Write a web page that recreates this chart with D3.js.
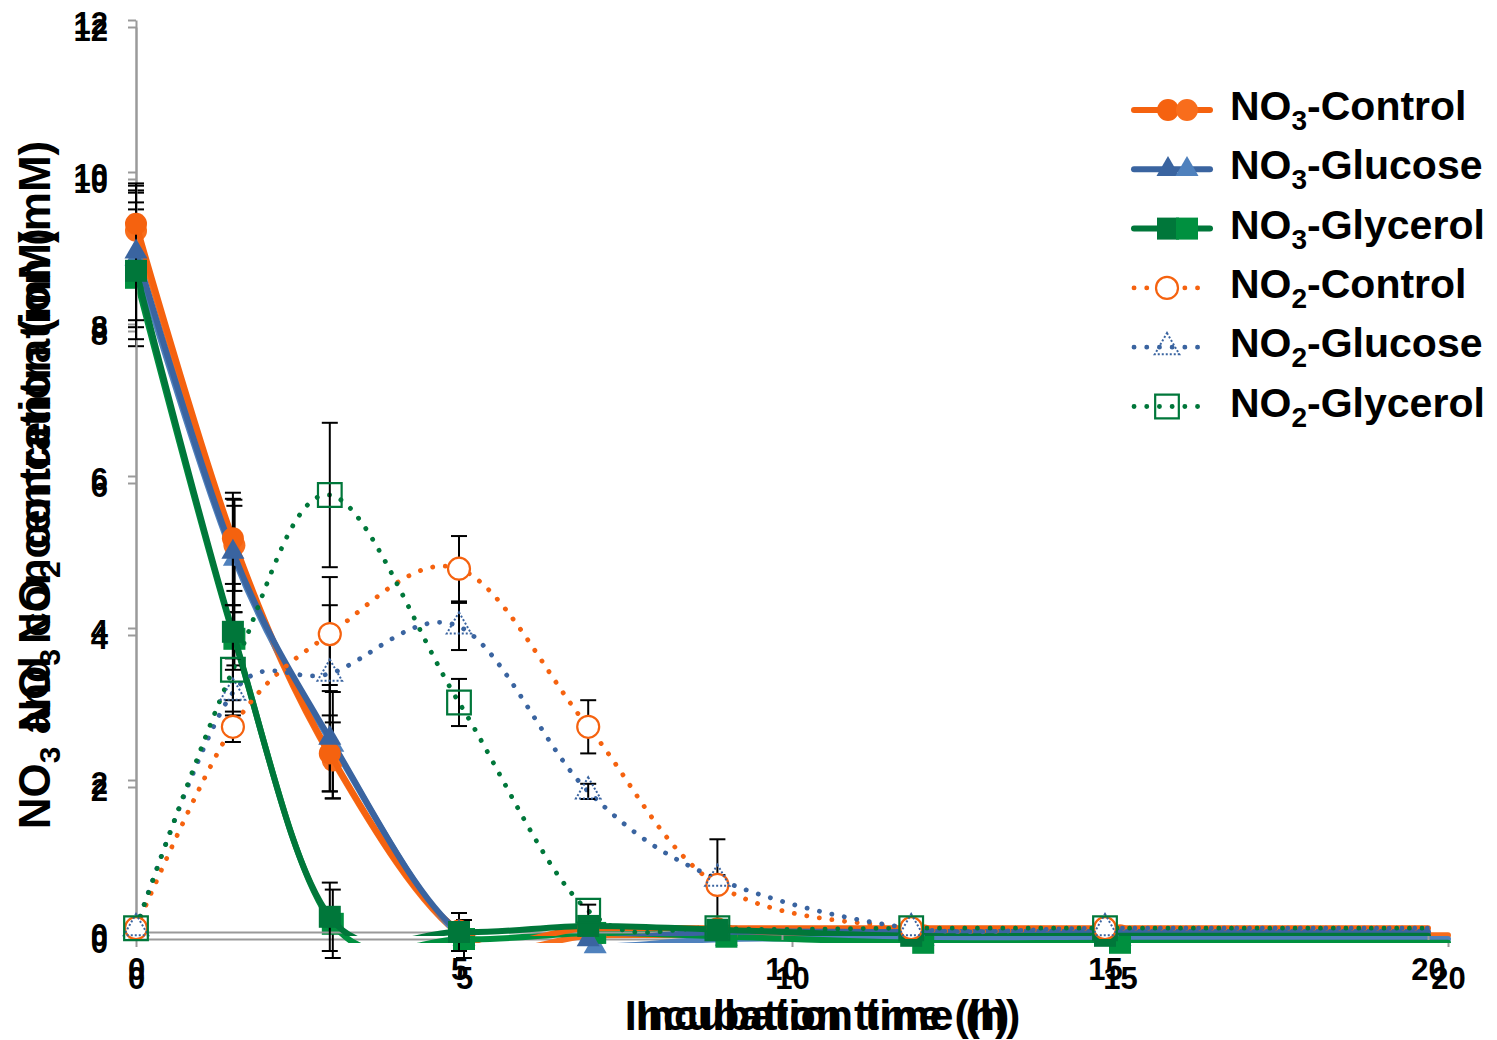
<!DOCTYPE html>
<html>
<head>
<style>
  body { margin: 0; background: #fff; }
  text { font-family: "Liberation Sans", Arial, sans-serif; font-weight: bold; fill: #000; }
</style>
<script src="https://d3js.org/d3.v7.min.js"></script>
</head>
<body>
<svg id="chart" width="1497" height="1040"></svg>
<script>
// incubation times (h)
var times = [0, 1.5, 3, 5, 7, 9, 12, 15, 20];

// NO3 (solid lines)
var no3Control  = [9.32, 5.18, 2.35, 0.02, 0.05, 0.05, 0.05, 0.05, 0.05];
var no3Glucose  = [8.95, 5.00, 2.55, 0.00, -0.10, 0.00, 0.00, 0.00, 0.00];
var no3Glycerol = [8.70, 3.95, 0.20, 0.00, 0.08, 0.03, -0.05, -0.05, -0.05];
// NO2 (dotted lines)
var no2Control  = [0.05, 2.70, 3.92, 4.78, 2.70, 0.62, 0.05, 0.05, 0.05];
var no2Glucose  = [0.05, 3.15, 3.40, 4.02, 1.85, 0.70, 0.05, 0.05, 0.05];
var no2Glycerol = [0.05, 3.45, 5.75, 3.02, 0.28, 0.05, 0.05, 0.05, 0.05];

// standard deviations
var no3ControlErr  = [0.50, 0.60, 0.50, 0.10, 0.05, 0.05, 0, 0, 0];
var no3GlucoseErr  = [0.90, 0.70, 0.70, 0.10, 0.05, 0, 0, 0, 0];
var no3GlycerolErr = [0.90, 0.35, 0.45, 0.25, 0.05, 0.05, 0, 0, 0];
var no2ControlErr  = [0.05, 0.20, 0.75, 0.43, 0.35, 0.60, 0.02, 0.02, 0];
var no2GlucoseErr  = [0.05, 0.30, 0.90, 0.31, 0.10, 0.05, 0.02, 0.02, 0];
var no2GlycerolErr = [0.05, 0.40, 0.95, 0.31, 0.08, 0.02, 0.02, 0.02, 0];

var yTicks = [0, 2, 4, 6, 8, 10, 12];
var xTicks = [0, 5, 10, 15, 20];

var series = [
  {sub: "3", name: "-Control",  values: no3Control,  err: no3ControlErr,  col: "#f5620f", light: "#f86d1c", shape: d3.symbolCircle,   size: 380, no3: true},
  {sub: "3", name: "-Glucose",  values: no3Glucose,  err: no3GlucoseErr,  col: "#3a64a0", light: "#4f81bd", shape: d3.symbolTriangle, size: 230, no3: true},
  {sub: "3", name: "-Glycerol", values: no3Glycerol, err: no3GlycerolErr, col: "#00773a", light: "#00903f", shape: d3.symbolSquare,   size: 484, no3: true},
  {sub: "2", name: "-Control",  values: no2Control,  err: no2ControlErr,  col: "#f5620f", shape: d3.symbolCircle,   size: 380, no3: false},
  {sub: "2", name: "-Glucose",  values: no2Glucose,  err: no2GlucoseErr,  col: "#3a64a0", shape: d3.symbolTriangle, size: 260, no3: false},
  {sub: "2", name: "-Glycerol", values: no2Glycerol, err: no2GlycerolErr, col: "#00773a", shape: d3.symbolSquare,   size: 560, no3: false}
];

var svg = d3.select("#chart");

// two overlaid copies of the chart, slightly offset (as in the original figure)
var layers = [
  {id: "back",  xr: [136, 1448], yr: [939, 27], light: true,  yTitle: [["NO", ""], ["3", "sub"], [" concentration (mM)", ""]], yMid: 480, xMid: 828, xPad: 20},
  {id: "front", xr: [136, 1428], yr: [932, 20], light: false, yTitle: [["NO", ""], ["3", "sub"], [" and NO", ""], ["2", "sub"], [" concentration (mM)", ""]], yMid: 485, xMid: 817, xPad: 18}
];

function addRich(sel, parts, subSize, shift) {
  parts.forEach(function (p) {
    if (p[1] == "sub") {
      sel.append("tspan").attr("font-size", subSize).attr("dy", shift).text(p[0]);
    } else {
      sel.append("tspan").attr("dy", sel.selectAll("tspan").size() ? -shift : 0).text(p[0]);
    }
  });
}

layers.forEach(function (L) {
  var x = d3.scaleLinear().domain([0, 20]).range(L.xr);
  var y = d3.scaleLinear().domain([0, 12]).range(L.yr);
  var g = svg.append("g").attr("class", L.id);

  // axes
  var ya = g.append("g").attr("transform", "translate(" + L.xr[0] + ",0)")
    .call(d3.axisLeft(y).tickValues(yTicks).tickSize(8).tickSizeOuter(0).tickPadding(20));
  var xa = g.append("g").attr("transform", "translate(0," + L.yr[0] + ")")
    .call(d3.axisBottom(x).tickValues(xTicks).tickSize(8).tickSizeOuter(0).tickPadding(L.xPad));
  [ya, xa].forEach(function (a) {
    a.select(".domain").attr("stroke", "#9a9a9a").attr("stroke-width", 2);
    a.selectAll(".tick line").attr("stroke", "#9a9a9a").attr("stroke-width", 2);
    a.selectAll(".tick text").attr("font-size", 31).attr("font-family", null).attr("fill", "#000");
  });
  ya.selectAll(".tick text").attr("dy", "0.42em");

  // axis titles
  g.append("text").attr("x", L.xMid).attr("y", 1030).attr("text-anchor", "middle")
    .attr("font-size", 43).text("Incubation time (h)");
  var yt = g.append("text").attr("transform", "translate(60," + L.yMid + ") rotate(-90)")
    .attr("text-anchor", "middle").attr("font-size", 44);
  addRich(yt, L.yTitle, 30, 10);

  var clipId = "clip-" + L.id;
  g.append("clipPath").attr("id", clipId).append("rect")
    .attr("x", L.xr[0] - 4).attr("y", L.yr[1] - 4)
    .attr("width", L.xr[1] - L.xr[0] + 8).attr("height", L.yr[0] - L.yr[1] + 8);

  var list = series.filter(function (s) { return L.light ? s.no3 : true; });
  var line = d3.line()
    .x(function (d, i) { return x(times[i]); })
    .y(function (d) { return y(d); })
    .curve(d3.curveCardinal.tension(0));

  // lines
  list.forEach(function (s) {
    var c = L.light ? s.light : s.col;
    var p = g.append("path").attr("clip-path", "url(#" + clipId + ")")
      .attr("d", line(s.values)).attr("fill", "none").attr("stroke", c)
      .attr("stroke-linecap", "round");
    if (s.no3) p.attr("stroke-width", 6);
    else p.attr("stroke-width", 4.8).attr("stroke-dasharray", "0.1 12.6");
  });

  // error bars
  list.forEach(function (s) {
    s.values.forEach(function (v, i) {
      var e = s.err[i];
      if (!e) return;
      var cx = x(times[i]);
      var eb = g.append("g").attr("stroke", "#000").attr("stroke-width", 2);
      eb.append("line").attr("x1", cx).attr("x2", cx).attr("y1", y(v + e)).attr("y2", y(v - e));
      eb.append("line").attr("x1", cx - 8).attr("x2", cx + 8).attr("y1", y(v + e)).attr("y2", y(v + e));
      eb.append("line").attr("x1", cx - 8).attr("x2", cx + 8).attr("y1", y(v - e)).attr("y2", y(v - e));
    });
  });

  // markers (the last time point has none)
  list.forEach(function (s) {
    var c = L.light ? s.light : s.col;
    var sym = d3.symbol().type(s.shape).size(s.size);
    s.values.forEach(function (v, i) {
      if (i == times.length - 1) return;
      var m = g.append("path").attr("d", sym())
        .attr("transform", "translate(" + x(times[i]) + "," + y(v) + ")");
      styleMarker(m, s, c);
    });
  });
});

function styleMarker(m, s, c) {
  if (s.no3) {
    m.attr("fill", c);
  } else if (s.shape == d3.symbolCircle) {
    m.attr("fill", "#fff").attr("stroke", c).attr("stroke-width", 2.2);
  } else if (s.shape == d3.symbolTriangle) {
    m.attr("fill", "none").attr("stroke", c).attr("stroke-width", 2).attr("stroke-dasharray", "2 2");
  } else {
    m.attr("fill", "none").attr("stroke", c).attr("stroke-width", 2.2);
  }
}

// legend
var leg = svg.append("g");
series.forEach(function (s, i) {
  var cy = 110 + i * 59.3;
  if (s.no3) {
    leg.append("line").attr("x1", 1134).attr("x2", 1210).attr("y1", cy).attr("y2", cy)
      .attr("stroke", s.col).attr("stroke-width", 6).attr("stroke-linecap", "round");
    var sym = d3.symbol().type(s.shape).size(s.size);
    leg.append("path").attr("d", sym()).attr("transform", "translate(1168," + cy + ")").attr("fill", s.col);
    leg.append("path").attr("d", sym()).attr("transform", "translate(1187," + cy + ")").attr("fill", s.light);
  } else {
    leg.append("line").attr("x1", 1134).attr("x2", 1198).attr("y1", cy).attr("y2", cy)
      .attr("stroke", s.col).attr("stroke-width", 4.8).attr("stroke-linecap", "round")
      .attr("stroke-dasharray", "0.1 12.6");
    var m = leg.append("path").attr("d", d3.symbol().type(s.shape).size(s.size)())
      .attr("transform", "translate(1167," + cy + ")");
    styleMarker(m, s, s.col);
  }
  var t = leg.append("text").attr("x", 1230).attr("y", cy + 20).attr("font-size", 41);
  addRich(t, [["NO", ""], [s.sub, "sub"], [s.name, ""]], 28, 10);
});
</script>
</body>
</html>
